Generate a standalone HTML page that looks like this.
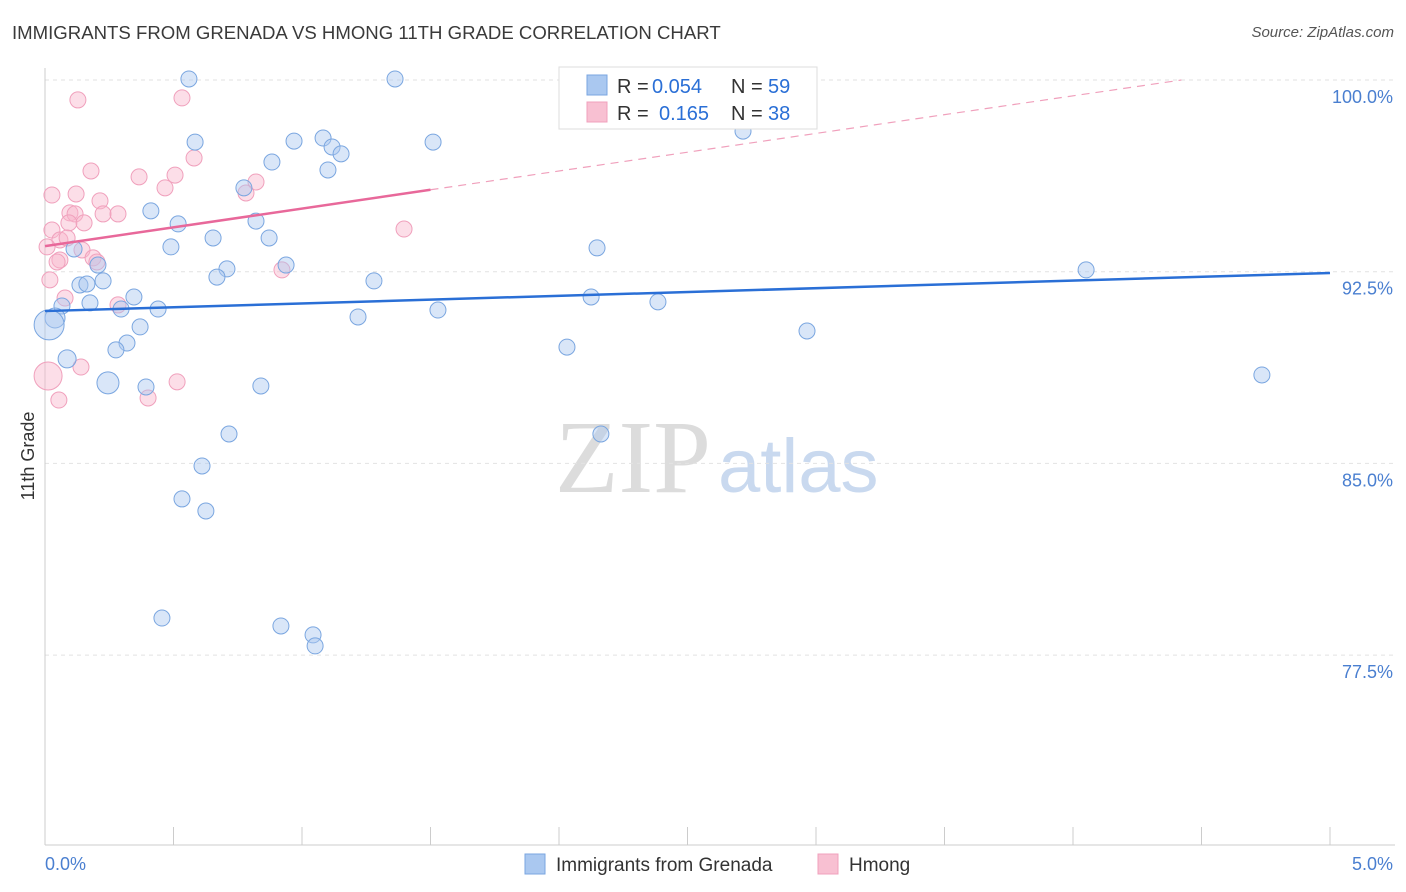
<!DOCTYPE html>
<html><head><meta charset="utf-8">
<style>
body{margin:0;background:#fff;font-family:"Liberation Sans",sans-serif;}
#wrap{position:relative;width:1406px;height:892px;overflow:hidden;}
.t{position:absolute;white-space:nowrap;}
</style></head>
<body>
<div id="wrap">
<div class="t" style="left:12px;top:22px;font-size:18.6px;color:#3a3a3a;">IMMIGRANTS FROM GRENADA VS HMONG 11TH GRADE CORRELATION CHART</div>
<div class="t" style="right:12px;top:24px;font-size:15px;color:#555;font-style:italic;">Source: ZipAtlas.com</div>
<svg id="plot" width="1406" height="892" style="position:absolute;left:0;top:0"></svg>
</div>
<script>
const xTicksLabels=["0.0%","5.0%"];
const yTicks=[100,92.5,85,77.5];
const yTickLabels=["100.0%","92.5%","85.0%","77.5%"];
const blueX=[0.560,1.362,0.584,0.969,1.082,1.510,2.716,1.117,1.152,0.883,1.101,0.774,0.412,0.821,0.518,0.654,0.872,0.490,0.113,2.148,0.206,0.938,0.708,0.669,4.051,0.226,0.136,1.280,0.163,0.346,0.175,0.066,2.125,2.385,0.440,0.296,1.529,1.218,0.039,0.016,0.370,2.965,0.319,0.276,2.031,0.086,0.245,0.393,0.840,4.735,0.716,2.163,0.611,0.533,0.626,0.455,0.918,1.043,1.051];
const blueY=[100.04,100.04,97.57,97.61,97.73,97.57,98.00,97.38,97.11,96.79,96.48,95.78,94.88,94.48,94.37,93.82,93.82,93.47,93.39,93.43,92.76,92.76,92.61,92.29,92.57,92.14,91.98,92.14,92.02,91.51,91.28,91.16,91.51,91.32,91.04,91.04,91.00,90.73,90.69,90.42,90.34,90.18,89.71,89.44,89.55,89.09,88.15,87.99,88.03,88.46,86.15,86.15,84.90,83.61,83.14,78.95,78.64,78.29,77.86];
const blueR=[8,8,8,8,8,8,8,8,8,8,8,8,8,8,8,8,8,8,8,8,8,8,8,8,8,8,8,8,8,8,8,8,8,8,8,8,8,8,10,15,8,8,8,8,8,9,11,8,8,8,8,8,8,8,8,8,8,8,8];
const pinkX=[0.128,0.533,0.580,0.179,0.366,0.506,0.821,0.467,0.027,0.121,0.782,0.214,0.097,0.226,0.284,0.117,0.093,0.152,0.027,1.397,0.058,0.008,0.144,0.187,0.058,0.047,0.922,0.019,0.078,0.284,0.140,0.012,0.514,0.054,0.401,0.086,0.202];
const pinkY=[99.22,99.30,96.95,96.44,96.21,96.28,96.01,95.78,95.50,95.54,95.58,95.27,94.80,94.76,94.76,94.76,94.41,94.41,94.13,94.17,93.74,93.47,93.35,93.04,92.96,92.88,92.57,92.18,91.47,91.20,88.77,88.42,88.19,87.48,87.56,93.82,92.88];
const pinkR=[8,8,8,8,8,8,8,8,8,8,8,8,8,8,8,8,8,8,8,8,8,8,8,8,8,8,8,8,8,8,8,14,8,8,8,8,8];
const blueTrend=[90.96,92.45];
const pinkTrend=[93.5,1.47];
const svg=document.getElementById('plot');
const NS='http://www.w3.org/2000/svg';
const X=v=>45+v/5*1285;
const Y=v=>80+(100-v)/7.5*191.7;
function mk(tag,attrs,parent){const e=document.createElementNS(NS,tag);for(const k in attrs)e.setAttribute(k,attrs[k]);(parent||svg).appendChild(e);return e;}
let wm=mk('text',{x:555,y:492,'font-size':104,'font-family':'Liberation Serif, serif',fill:'#dcdcdc'});


wm.textContent='ZIP';
let wm2=mk('text',{x:718,y:492,'font-size':76,'font-family':'Liberation Sans, sans-serif',fill:'#c9d9ef'});


wm2.textContent='atlas';
yTicks.forEach((v,i)=>{
 const g=mk('line',{x1:45,x2:1395,y1:Y(v),y2:Y(v),stroke:'#e2e2e2','stroke-dasharray':'4,4'});
 
 
 const t=mk('text',{x:1393,y:Y(v)+23,'font-size':18,fill:'#4a7fd0','text-anchor':'end','font-family':'Liberation Sans, sans-serif'});
 
 
 t.textContent=yTickLabels[i];
});
let ax=mk('line',{x1:45,x2:45,y1:68,y2:845,stroke:'#ccc'});


let bx=mk('line',{x1:45,x2:1395,y1:845,y2:845,stroke:'#ccc'});


for(let i=0;i<=10;i++){
 const tk=mk('line',{x1:X(i*0.5),x2:X(i*0.5),y1:827,y2:845,stroke:'#ccc'});
 
 
}
[[0,45,'start'],[5,1393,'end']].forEach((p,i)=>{
 const t=mk('text',{x:p[1],y:870,'font-size':18,fill:'#4a7fd0','text-anchor':p[2],'font-family':'Liberation Sans, sans-serif'});
 
 
 t.textContent=xTicksLabels[i];
});
let yt=mk('text',{x:34,y:456,'font-size':18,fill:'#333','text-anchor':'middle',transform:'rotate(-90 34 456)','font-family':'Liberation Sans, sans-serif'});


yt.textContent='11th Grade';
pinkX.forEach((v,i)=>{
 const c=mk('circle',{cx:X(v),cy:Y(pinkY[i]),r:pinkR[i],fill:'rgba(248,182,204,0.45)',stroke:'#f0a0bc','stroke-width':1});
 
 
});
blueX.forEach((v,i)=>{
 const c=mk('circle',{cx:X(v),cy:Y(blueY[i]),r:blueR[i],fill:'rgba(170,200,240,0.45)',stroke:'#7aa6e0','stroke-width':1});
 
 
});
let bl=mk('line',{x1:X(0),y1:Y(blueTrend[0]),x2:X(5),y2:Y(blueTrend[1]),stroke:'#2a6fd6','stroke-width':2.5});


const pEnd=(100-pinkTrend[0])/pinkTrend[1];
let pd=mk('line',{x1:X(1.5),y1:Y(pinkTrend[0]+pinkTrend[1]*1.5),x2:X(pEnd),y2:Y(100),stroke:'#f0a0bc','stroke-width':1.2,'stroke-dasharray':'8,6'});


let pl=mk('line',{x1:X(0),y1:Y(pinkTrend[0]),x2:X(1.5),y2:Y(pinkTrend[0]+pinkTrend[1]*1.5),stroke:'#e8689a','stroke-width':2.5});


let lg=mk('rect',{x:559,y:67,width:258,height:62,fill:'#fff',stroke:'#ddd'});


[[75,'#aac8f0','#7aa6e0','0.054','59',652],[102,'#f8c0d2','#f0a0bc','0.165','38',659]].forEach(r=>{
 const s=mk('rect',{x:587,y:r[0],width:20,height:20,fill:r[1],stroke:r[2]});
 
 
 const parts=[[617,'R =','#333'],[r[5],r[3],'#2a6fd6'],[731,'N =','#333'],[768,r[4],'#2a6fd6']];
 parts.forEach(p=>{
  const t=mk('text',{x:p[0],y:r[0]+18,'font-size':20,fill:p[2],'font-family':'Liberation Sans, sans-serif'});
  
  
  t.textContent=p[1];
 });
});
[[525,'#aac8f0','#7aa6e0','Immigrants from Grenada'],[818,'#f8c0d2','#f0a0bc','Hmong']].forEach(r=>{
 const s=mk('rect',{x:r[0],y:854,width:20,height:20,fill:r[1],stroke:r[2]});
 
 
 const t=mk('text',{x:r[0]+31,y:871,'font-size':19,fill:'#333','font-family':'Liberation Sans, sans-serif'});
 
 
 t.textContent=r[3];
});
</script>
</body></html>
